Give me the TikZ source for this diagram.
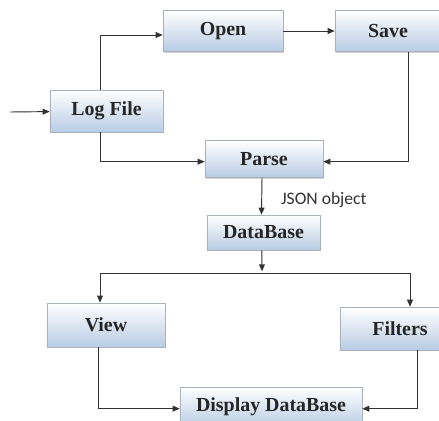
\documentclass[tikz,border=0pt]{standalone}
\usepackage{fontspec}
\setmainfont{Liberation Serif}
\newfontfamily\labelfont{Carlito}
\usetikzlibrary{arrows.meta,shadows}
\definecolor{boxblue}{RGB}{184,204,228}
\definecolor{boxline}{RGB}{170,178,190}
\definecolor{lineclr}{RGB}{50,50,50}
\tikzset{
  stepbox/.style={rectangle, draw=boxline, line width=0.5pt, top color=white, bottom color=boxblue,
    drop shadow={shadow xshift=1pt, shadow yshift=-1pt, fill=black!35},
    font=\fontsize{17}{19}\selectfont\bfseries, text=black!85, inner sep=0pt},
  arr/.style={draw=lineclr, line width=0.8pt, -{Triangle[length=6pt,width=5pt]}}
}
\begin{document}
\begin{tikzpicture}[x=0.03cm, y=-0.03cm]
\useasboundingbox[fill=white] (0,0) rectangle (439,421);
\draw (223,31) node[stepbox, minimum width=3.6cm, minimum height=1.23cm](open) {Open} ;
\draw (388,31) node[stepbox, minimum width=3.18cm, minimum height=1.23cm](save) {Save} ;
\draw (106.5,111) node[stepbox, minimum width=3.39cm, minimum height=1.26cm](logfile) {Log File} ;
\draw (264,159) node[stepbox, minimum width=3.54cm, minimum height=1.1cm](parse) {Parse} ;
\draw (263.5,232.5) node[stepbox, minimum width=3.39cm, minimum height=1.05cm](database) {DataBase} ;
\draw (106,325) node[stepbox, minimum width=3.54cm, minimum height=1.32cm](view) {View} ;
\draw (400,328.5) node[stepbox, minimum width=3.6cm, minimum height=1.29cm](filters) {Filters} ;
\draw (271,407) node[stepbox, minimum width=5.46cm, minimum height=1.2cm](display) {Display DataBase} ;
\coordinate (in) at (10,112) ;
\coordinate (split) at (262,273) ;
\draw[arr] (in) -- (logfile) ;
\draw[arr] ([xshift=-0.17cm]logfile.north) |- ([yshift=-0.12cm]open.west) ;
\draw[arr] (open) -- (save) ;
\draw[arr] ([xshift=0.6cm]save.south) |- ([yshift=-0.08cm]parse.east) ;
\draw[arr] ([xshift=-0.17cm]logfile.south) |- ([yshift=-0.08cm]parse.west) ;
\draw[arr] ([xshift=-0.06cm]parse.south) -- ([xshift=-0.06cm]database.north)
  node[midway, right=0.45cm, yshift=-0.1cm, font=\labelfont\fontsize{15}{17}\selectfont, text=black!80] {JSON object} ;
\draw[arr] ([xshift=-0.05cm]database.south) -- ([yshift=0.05cm]split) ;
\draw[arr] (split) -| ([xshift=-0.18cm]view.north) ;
\draw[arr] (split) -| ([xshift=0.3cm]filters.north) ;
\draw[arr] ([xshift=-0.24cm]view.south) |- ([yshift=-0.05cm]display.west) ;
\draw[arr] ([xshift=0.51cm]filters.south) |- ([yshift=-0.05cm]display.east) ;
\end{tikzpicture}
\end{document}
